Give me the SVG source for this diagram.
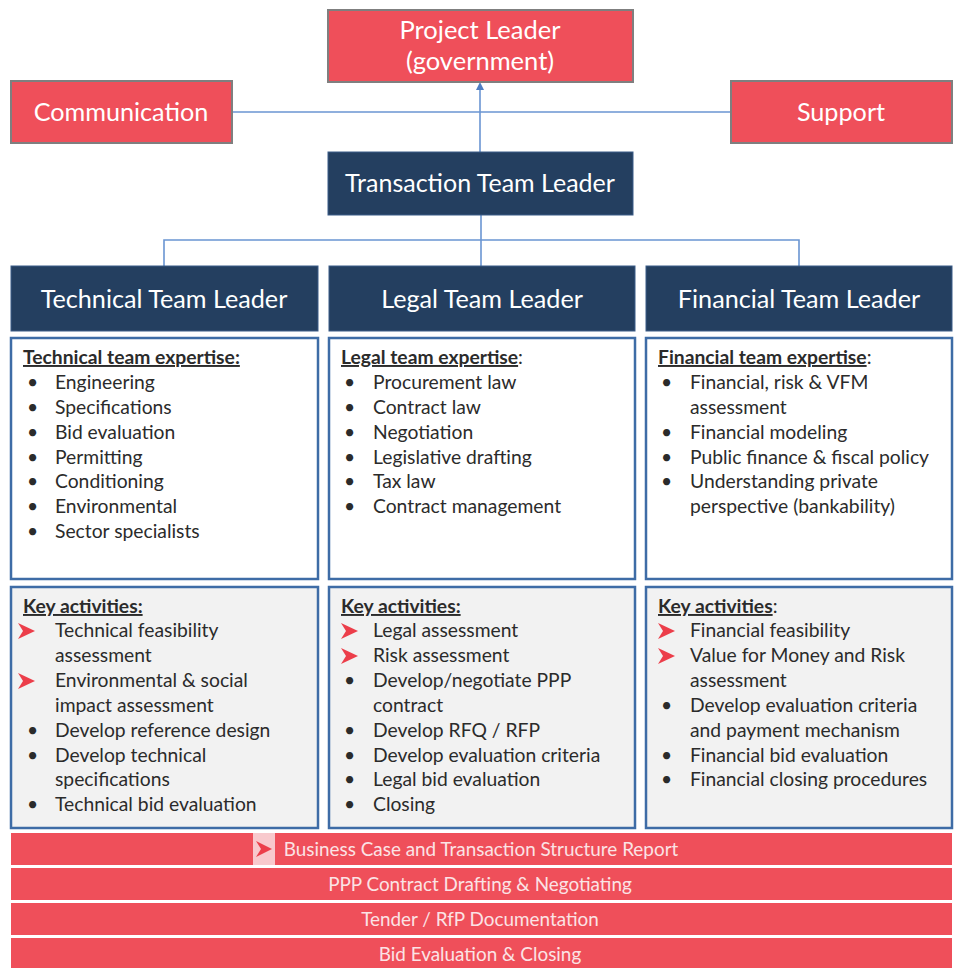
<svg xmlns="http://www.w3.org/2000/svg" width="956" height="968" viewBox="0 0 956 968">
<defs>
<style>
.red{fill:#EF4F5A;stroke:#7F7F7F;stroke-width:2}
.navy{fill:#243F60;stroke:#3B5D88;stroke-width:1}
.hw{font-family:Lato,"Open Sans",sans-serif;fill:#FFFFFF;text-anchor:middle}
.box{fill:#FFFFFF;stroke:#3E6CA6;stroke-width:2.5}
.kbox{fill:#F2F2F2;stroke:#3E6CA6;stroke-width:2.5}
.t{font-family:Lato,"Open Sans",sans-serif;font-size:19.3px;fill:#2B2B2B}
.ti{font-weight:bold;text-decoration:underline}
.bar{fill:#EF4F5A}
.bt{font-family:Lato,"Open Sans",sans-serif;font-size:18.9px;fill:#FBE3E5;text-anchor:middle}
.con{fill:none;stroke:#6A95D2;stroke-width:1.6}
</style>
<path id="arw" d="M0,-8 L17,0 L0,8 L5,0 Z" fill="#EC3E4A"/>
<marker id="ah" markerWidth="8" markerHeight="8" refX="4" refY="4" orient="auto" markerUnits="userSpaceOnUse">
<path d="M0,0 L8,4 L0,8 Z" fill="#4F7FC4"/>
</marker>
</defs>
<rect width="956" height="968" fill="#FFFFFF"/>

<g id="connectors">
<line class="con" x1="232" y1="112" x2="731" y2="112"/>
<line class="con" x1="480" y1="152" x2="480" y2="86" marker-end="url(#ah)"/>
<polyline class="con" points="164,266 164,240 799,240 799,266"/>
<line class="con" x1="481" y1="215" x2="481" y2="266"/>
</g>

<g id="project-leader">
<rect class="red" x="328" y="10" width="305" height="72"/>
<text class="hw" x="480" y="39" font-size="25.5">Project Leader</text>
<text class="hw" x="480" y="70" font-size="25.5">(government)</text>
</g>
<g id="communication">
<rect class="red" x="11" y="81" width="221" height="62"/>
<text class="hw" x="121" y="121" font-size="25.2">Communication</text>
</g>
<g id="support">
<rect class="red" x="731" y="81" width="221" height="62"/>
<text class="hw" x="841" y="121" font-size="25.2">Support</text>
</g>
<g id="transaction-team-leader">
<rect class="navy" x="328" y="152" width="305" height="63"/>
<text class="hw" x="480" y="192" font-size="25">Transaction Team Leader</text>
</g>

<g id="technical-team-leader">
<rect class="navy" x="11" y="266" width="307" height="65"/>
<text class="hw" x="164" y="308" font-size="25.2">Technical Team Leader</text>
</g>
<g id="legal-team-leader">
<rect class="navy" x="329" y="266" width="306" height="65"/>
<text class="hw" x="482" y="308" font-size="25.2">Legal Team Leader</text>
</g>
<g id="financial-team-leader">
<rect class="navy" x="646" y="266" width="306" height="65"/>
<text class="hw" x="799" y="308" font-size="25.2">Financial Team Leader</text>
</g>

<g id="technical-expertise">
<rect class="box" x="11" y="338" width="307" height="241"/>
<text class="t" x="23" y="364"><tspan class="ti">Technical team expertise:</tspan></text>
<g class="t">
<text x="27" y="389">•</text><text x="55" y="389">Engineering</text>
<text x="27" y="414">•</text><text x="55" y="414">Specifications</text>
<text x="27" y="439">•</text><text x="55" y="439">Bid evaluation</text>
<text x="27" y="464">•</text><text x="55" y="464">Permitting</text>
<text x="27" y="488">•</text><text x="55" y="488">Conditioning</text>
<text x="27" y="513">•</text><text x="55" y="513">Environmental</text>
<text x="27" y="538">•</text><text x="55" y="538">Sector specialists</text>
</g>
</g>

<g id="legal-expertise">
<rect class="box" x="329" y="338" width="306" height="241"/>
<text class="t" x="341" y="364"><tspan class="ti">Legal team expertise</tspan>:</text>
<g class="t">
<text x="344" y="389">•</text><text x="373" y="389">Procurement law</text>
<text x="344" y="414">•</text><text x="373" y="414">Contract law</text>
<text x="344" y="439">•</text><text x="373" y="439">Negotiation</text>
<text x="344" y="464">•</text><text x="373" y="464">Legislative drafting</text>
<text x="344" y="488">•</text><text x="373" y="488">Tax law</text>
<text x="344" y="513">•</text><text x="373" y="513">Contract management</text>
</g>
</g>

<g id="financial-expertise">
<rect class="box" x="646" y="338" width="306" height="241"/>
<text class="t" x="658" y="364"><tspan class="ti">Financial team expertise</tspan>:</text>
<g class="t">
<text x="661" y="389">•</text><text x="690" y="389">Financial, risk &amp; VFM</text>
<text x="690" y="414">assessment</text>
<text x="661" y="439">•</text><text x="690" y="439">Financial modeling</text>
<text x="661" y="464">•</text><text x="690" y="464">Public finance &amp; fiscal policy</text>
<text x="661" y="488">•</text><text x="690" y="488">Understanding private</text>
<text x="690" y="513">perspective (bankability)</text>
</g>
</g>

<g id="technical-activities">
<rect class="kbox" x="11" y="587" width="307" height="241"/>
<text class="t" x="23" y="613"><tspan class="ti">Key activities:</tspan></text>
<use href="#arw" x="18" y="631"/>
<use href="#arw" x="18" y="681"/>
<g class="t">
<text x="55" y="637">Technical feasibility</text>
<text x="55" y="662">assessment</text>
<text x="55" y="687">Environmental &amp; social</text>
<text x="55" y="712">impact assessment</text>
<text x="27" y="737">•</text><text x="55" y="737">Develop reference design</text>
<text x="27" y="762">•</text><text x="55" y="762">Develop technical</text>
<text x="55" y="786">specifications</text>
<text x="27" y="811">•</text><text x="55" y="811">Technical bid evaluation</text>
</g>
</g>

<g id="legal-activities">
<rect class="kbox" x="329" y="587" width="306" height="241"/>
<text class="t" x="341" y="613"><tspan class="ti">Key activities:</tspan></text>
<use href="#arw" x="341" y="631"/>
<use href="#arw" x="341" y="656"/>
<g class="t">
<text x="373" y="637">Legal assessment</text>
<text x="373" y="662">Risk assessment</text>
<text x="344" y="687">•</text><text x="373" y="687">Develop/negotiate  PPP</text>
<text x="373" y="712">contract</text>
<text x="344" y="737">•</text><text x="373" y="737">Develop RFQ / RFP</text>
<text x="344" y="762">•</text><text x="373" y="762">Develop evaluation criteria</text>
<text x="344" y="786">•</text><text x="373" y="786">Legal bid evaluation</text>
<text x="344" y="811">•</text><text x="373" y="811">Closing</text>
</g>
</g>

<g id="financial-activities">
<rect class="kbox" x="646" y="587" width="306" height="241"/>
<text class="t" x="658" y="613"><tspan class="ti">Key activities</tspan>:</text>
<use href="#arw" x="658" y="631"/>
<use href="#arw" x="658" y="656"/>
<g class="t">
<text x="690" y="637">Financial feasibility</text>
<text x="690" y="662">Value for Money and Risk</text>
<text x="690" y="687">assessment</text>
<text x="661" y="712">•</text><text x="690" y="712">Develop evaluation criteria</text>
<text x="690" y="737">and payment mechanism</text>
<text x="661" y="762">•</text><text x="690" y="762">Financial bid evaluation</text>
<text x="661" y="786">•</text><text x="690" y="786">Financial closing procedures</text>
</g>
</g>

<g id="bar-business-case">
<rect class="bar" x="11" y="833" width="941" height="32"/>
<rect x="253" y="833" width="22" height="32" fill="#F8C9CD"/>
<path d="M256,841 L272,849 L256,857 L261,849 Z" fill="#EC3E4A"/>
<text class="bt" x="481" y="856">Business Case and Transaction Structure Report</text>
</g>
<g id="bar-ppp-contract">
<rect class="bar" x="11" y="868" width="941" height="32"/>
<text class="bt" x="480" y="891">PPP Contract Drafting &amp; Negotiating</text>
</g>
<g id="bar-tender">
<rect class="bar" x="11" y="903" width="941" height="32"/>
<text class="bt" x="480" y="926">Tender / RfP Documentation</text>
</g>
<g id="bar-bid-evaluation">
<rect class="bar" x="11" y="938" width="941" height="30"/>
<text class="bt" x="480" y="961">Bid Evaluation &amp; Closing</text>
</g>
</svg>
